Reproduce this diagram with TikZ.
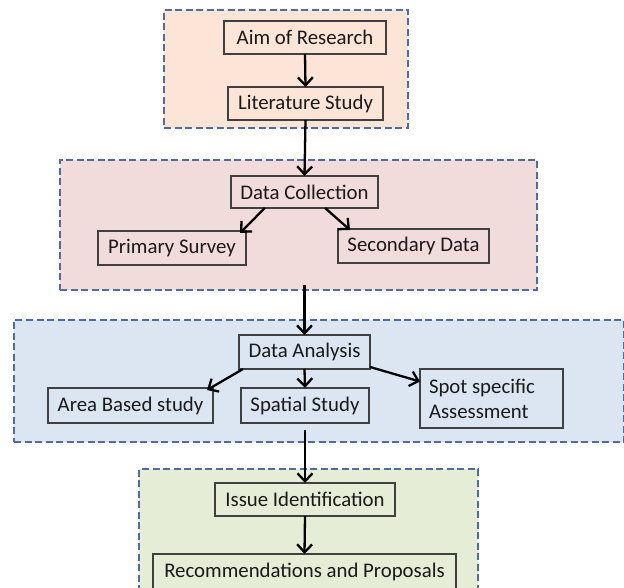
\documentclass[tikz,border=0pt]{standalone}
\usepackage{fontspec}
\setmainfont{Carlito}
\usetikzlibrary{arrows.meta,calc}
\definecolor{gpeach}{RGB}{252,228,214}
\definecolor{gpink}{RGB}{242,220,219}
\definecolor{gblue}{RGB}{220,230,242}
\definecolor{ggreen}{RGB}{230,237,214}
\definecolor{gborder}{RGB}{79,108,156}
\definecolor{bborder}{RGB}{64,64,64}
\definecolor{txt}{RGB}{25,25,25}
\tikzset{
  grp/.style={draw=gborder, line width=1.4pt, dash pattern=on 7pt off 3.5pt, inner sep=0pt, outer sep=0pt},
  box/.style={draw=bborder, line width=1.1pt, inner sep=0pt, outer sep=0pt, text=txt,
     font=\fontsize{20.8}{25}\selectfont},
  arr/.style={draw=black, line width=2.3pt, -{Straight Barb[length=8pt,width=15pt,line width=2.3pt]}},
}
\begin{document}
\begin{tikzpicture}[x=1pt,y=-1pt]
\useasboundingbox (0,0) rectangle (624,588);
% groups
\node[grp, fill=gpeach, minimum width=244pt, minimum height=118pt] (g1) at (286,69) {};
\node[grp, fill=gpink, minimum width=477pt, minimum height=130pt] (g2) at (298.5,225) {};
\node[grp, fill=gblue, minimum width=610pt, minimum height=122pt] (g3) at (319,381) {};
\node[grp, fill=ggreen, minimum width=339pt, minimum height=130pt] (g4) at (308.5,534) {};
% boxes
\node[box, minimum width=162pt, minimum height=33pt] (aim) at (305,37.5) {Aim of Research};
\node[box, minimum width=155pt, minimum height=33pt] (lit) at (305.5,103.5) {Literature Study};
\node[box, minimum width=147pt, minimum height=32pt] (dc) at (304.5,192) {Data Collection};
\node[box, minimum width=148pt, minimum height=34pt] (ps) at (172,248) {Primary Survey};
\node[box, minimum width=151pt, minimum height=34pt] (sd) at (413.5,246) {Secondary Data};
\node[box, minimum width=131pt, minimum height=34pt] (da) at (304.5,352) {Data Analysis};
\node[box, minimum width=165pt, minimum height=35pt] (abs) at (130.5,405.5) {Area Based study};
\node[box, minimum width=128pt, minimum height=35pt] (ss) at (305,405.5) {Spatial Study};
\node[box, minimum width=143pt, minimum height=59pt, align=left, inner xsep=9pt, text width=125pt] (spot) at (491.5,398.5) {\spaceskip=0pt\xspaceskip=0pt\relax Spot specific\\Assessment};
\node[box, minimum width=180pt, minimum height=33pt] (iss) at (305,499.5) {Issue Identification};
\node[box, minimum width=303pt, minimum height=35pt] (rec) at (304.5,571.5) {Recommendations and Proposals};
% connectors
\draw[arr] (aim.south) -- (lit.north);
\draw[arr] (lit.south) -- (dc.north);
\draw[arr] ($(dc.south west)!0.23!(dc.south east)$) -- ([xshift=-6pt,yshift=-2pt]ps.north east);
\draw[arr] ($(dc.south west)!0.64!(dc.south east)$) -- ([xshift=12pt,yshift=-1pt]sd.north west);
\coordinate (c2) at ([yshift=5pt]da.north |- g2.south);
\draw[arr] (c2) -- (da.north);
\draw[arr] ([xshift=4pt]da.south west) -- ([xshift=-6pt,yshift=-2pt]abs.north east);
\draw[arr] (da.south) -- (ss.north);
\draw[arr] ([yshift=2pt]da.south east) -- ([yshift=17pt]spot.west);
\coordinate (c3) at ([yshift=-7pt]ss.south);
\draw[arr] (c3) -- (iss.north);
\draw[arr] (iss.south) -- (rec.north);
\end{tikzpicture}
\end{document}
